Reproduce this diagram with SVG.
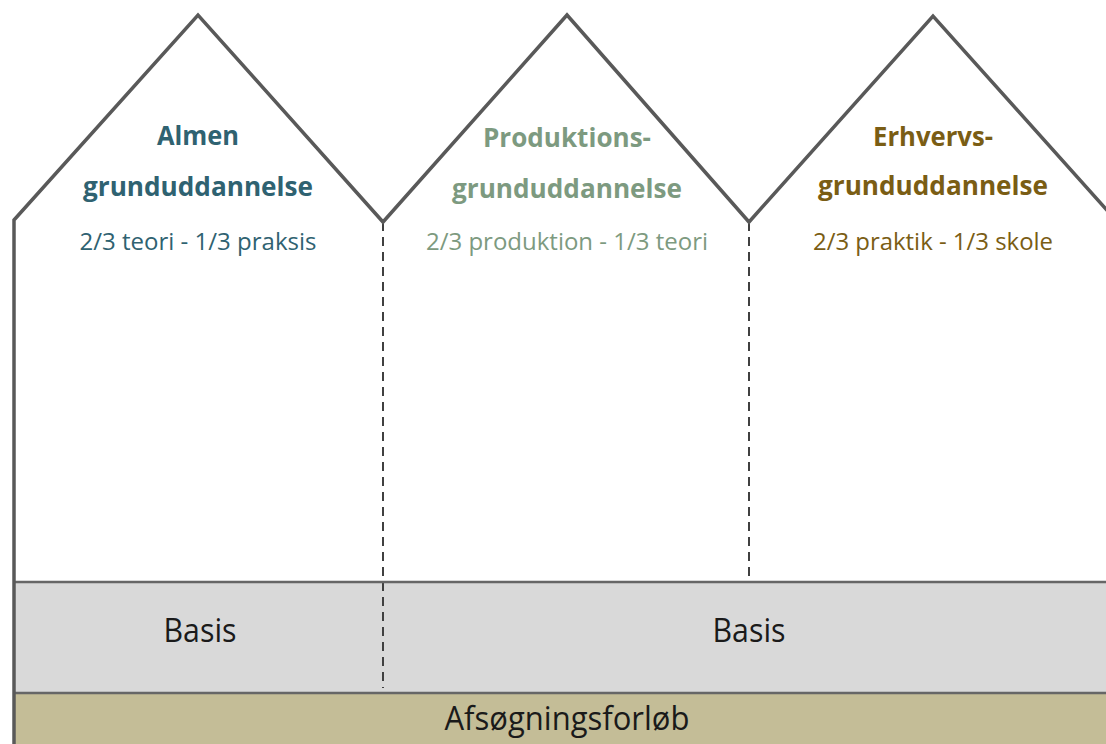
<svg xmlns="http://www.w3.org/2000/svg" width="1106" height="744" viewBox="0 0 1106 744">
<style>
.wall{fill:none;stroke:#595959;stroke-width:3.5;stroke-linejoin:miter}
.div{stroke:#404040;stroke-width:2;stroke-dasharray:9 6;fill:none}
.band{stroke:#666;stroke-width:2.5}
.h{font-family:"Open Sans","Noto Sans","Liberation Sans",sans-serif;font-weight:bold;font-size:27px;text-anchor:middle}
.s{font-family:"Open Sans","Noto Sans","Liberation Sans",sans-serif;font-size:23px;text-anchor:middle}
.b{font-family:"Open Sans","Noto Sans","Liberation Sans",sans-serif;font-size:33px;text-anchor:middle;fill:#1a1a1a}
.c1{fill:#2f6271}.c2{fill:#7d9a80}.c3{fill:#7a5d14}
</style>
<rect x="0" y="0" width="1106" height="744" fill="#ffffff"/>
<g id="basis-band">
<rect x="14" y="582" width="1092" height="111" fill="#d9d9d9"/>
</g>
<g id="afsogning-band">
<rect x="14" y="693" width="1092" height="51" fill="#c4bd97"/>
</g>
<g id="connectors">
<line class="div" x1="383" y1="222" x2="383" y2="688"/>
<line class="div" x1="749" y1="222" x2="749" y2="582"/>
<line class="band" x1="14" y1="582" x2="1106" y2="582"/>
<line class="band" x1="14" y1="693" x2="1106" y2="693"/>
</g>
<g id="outline">
<polyline class="wall" points="14,744 14,220 198,15 383,222 567,15 749,222 933,16 1114,218"/>
</g>
<g id="almen">
<text class="h c1" x="198" y="145" textLength="82" lengthAdjust="spacingAndGlyphs">Almen</text>
<text class="h c1" x="198" y="196" textLength="230" lengthAdjust="spacingAndGlyphs">grunduddannelse</text>
<text class="s c1" x="198" y="250" textLength="237" lengthAdjust="spacingAndGlyphs">2/3 teori - 1/3 praksis</text>
</g>
<g id="produktion">
<text class="h c2" x="567" y="147" textLength="168" lengthAdjust="spacingAndGlyphs">Produktions-</text>
<text class="h c2" x="567" y="198" textLength="230" lengthAdjust="spacingAndGlyphs">grunduddannelse</text>
<text class="s c2" x="567" y="250" textLength="282" lengthAdjust="spacingAndGlyphs">2/3 produktion - 1/3 teori</text>
</g>
<g id="erhverv">
<text class="h c3" x="933" y="146" textLength="120" lengthAdjust="spacingAndGlyphs">Erhvervs-</text>
<text class="h c3" x="933" y="195" textLength="230" lengthAdjust="spacingAndGlyphs">grunduddannelse</text>
<text class="s c3" x="933" y="250" textLength="240" lengthAdjust="spacingAndGlyphs">2/3 praktik - 1/3 skole</text>
</g>
<g id="basis1">
<text class="b" x="200" y="642" textLength="73" lengthAdjust="spacingAndGlyphs">Basis</text>
</g>
<g id="basis2">
<text class="b" x="749" y="642" textLength="73" lengthAdjust="spacingAndGlyphs">Basis</text>
</g>
<g id="afsogning">
<text class="b" x="567" y="730" textLength="245" lengthAdjust="spacingAndGlyphs">Afsøgningsforløb</text>
</g>
</svg>
